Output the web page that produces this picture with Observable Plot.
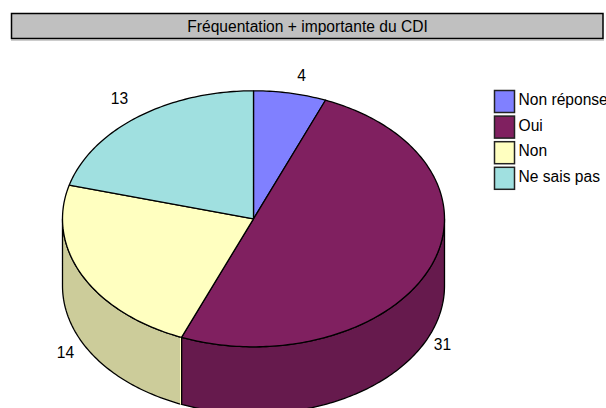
<!DOCTYPE html>
<html><head><meta charset="utf-8">
<style>html,body{margin:0;padding:0;background:#fff;overflow:hidden}svg{display:block}</style>
<script src="https://cdn.jsdelivr.net/npm/d3@7"></script>
<script src="https://cdn.jsdelivr.net/npm/@observablehq/plot@0.6"></script>
</head><body><script>
const titleText = "Fréquentation + importante du CDI";
const categories = ["Non réponse", "Oui", "Non", "Ne sais pas"];
const values = [4, 31, 14, 13];
const topColors = ["#8080FF", "#802060", "#FFFFC0", "#A0E0E0"];
const sideColors = ["#6666CC", "#661A4D", "#CCCC9A", "#80B3B3"];

const W = 606, H = 408;
const cx = 253, cy = 218.3, rx = 191, ry = 128, depth = 67;
const font = "Liberation Sans, Arial, sans-serif";
const fs = 15.6;
const labelAt = [[301, 75.5], [442, 344.5], [65, 352.5], [119, 98.5]];

const pie = d3.pie().sort(null).value(d => d)(values);
const deg = Math.PI / 180;
// small view correction of the tilted disc
const view = a => a - 1.5 * deg * Math.sin(2 * a);
const px = a => cx + rx * Math.sin(a), py = a => cy - ry * Math.cos(a);
function arcAngles(a0, a1) {
  const n = Math.max(2, Math.ceil((a1 - a0) / deg));
  return d3.range(n + 1).map(i => a0 + (a1 - a0) * i / n);
}
const marks = [];
const lineOpts = {x: d => d[0], y: d => d[1], stroke: "#000", strokeWidth: 1.3, curve: "linear-closed"};
// side walls: the front half of the cylinder only
pie.forEach((s, i) => {
  const a0 = Math.max(view(s.startAngle), Math.PI / 2), a1 = Math.min(view(s.endAngle), 3 * Math.PI / 2);
  if (a1 <= a0) return;
  const ang = arcAngles(a0, a1);
  const poly = [...ang.map(a => [px(a), py(a)]), ...ang.slice().reverse().map(a => [px(a), py(a) + depth])];
  marks.push(Plot.line(poly, {...lineOpts, fill: sideColors[i]}));
});
// pale edge where the yellow wall meets the plum wall
const edge = view(pie[1].endAngle);
marks.push(Plot.line([[px(edge), py(edge)], [px(edge), py(edge) + depth]], {x: d => d[0], y: d => d[1], stroke: topColors[2], strokeWidth: 1, dx: -1}));
// top faces
pie.forEach((s, i) => {
  const poly = [[cx, cy], ...arcAngles(view(s.startAngle), view(s.endAngle)).map(a => [px(a), py(a)])];
  marks.push(Plot.line(poly, {...lineOpts, fill: topColors[i]}));
});
// value labels
marks.push(Plot.text(values, {x: (d, i) => labelAt[i][0], y: (d, i) => labelAt[i][1], text: d => String(d), fontSize: fs, fontFamily: font, fill: "#000"}));
// title box
marks.push(Plot.rect([titleText], {x1: () => 11.5, x2: () => 603, y1: () => 13.5, y2: () => 38.5, fill: "#C0C0C0", stroke: "#000", strokeWidth: 1.5}));
marks.push(Plot.ruleY([titleText], {y: () => 39.5, x1: () => 11, x2: () => 604, stroke: "#999", strokeWidth: 1}));
marks.push(Plot.text([titleText], {x: () => 307, y: () => 26, text: d => d, fontSize: fs, fontFamily: font, fill: "#000"}));
// legend
const legY = i => 90.5 + i * 25.6;
marks.push(Plot.rect(categories, {x1: () => 494.5, x2: () => 514.5, y1: (d, i) => legY(i), y2: (d, i) => legY(i) + 22, fill: (d, i) => topColors[i], stroke: "#222", strokeWidth: 1.5}));
marks.push(Plot.text(categories, {x: () => 518, y: (d, i) => legY(i) + 9, text: d => d, textAnchor: "start", fontSize: fs, fontFamily: font, fill: "#000"}));

const chart = Plot.plot({
  width: W, height: H, margin: 0,
  x: {domain: [0, W], range: [0, W], axis: null},
  y: {domain: [0, H], range: [0, H], axis: null},
  color: {type: "identity"},
  style: {background: "#fff"},
  marks
});
document.body.append(chart);
</script></body></html>
